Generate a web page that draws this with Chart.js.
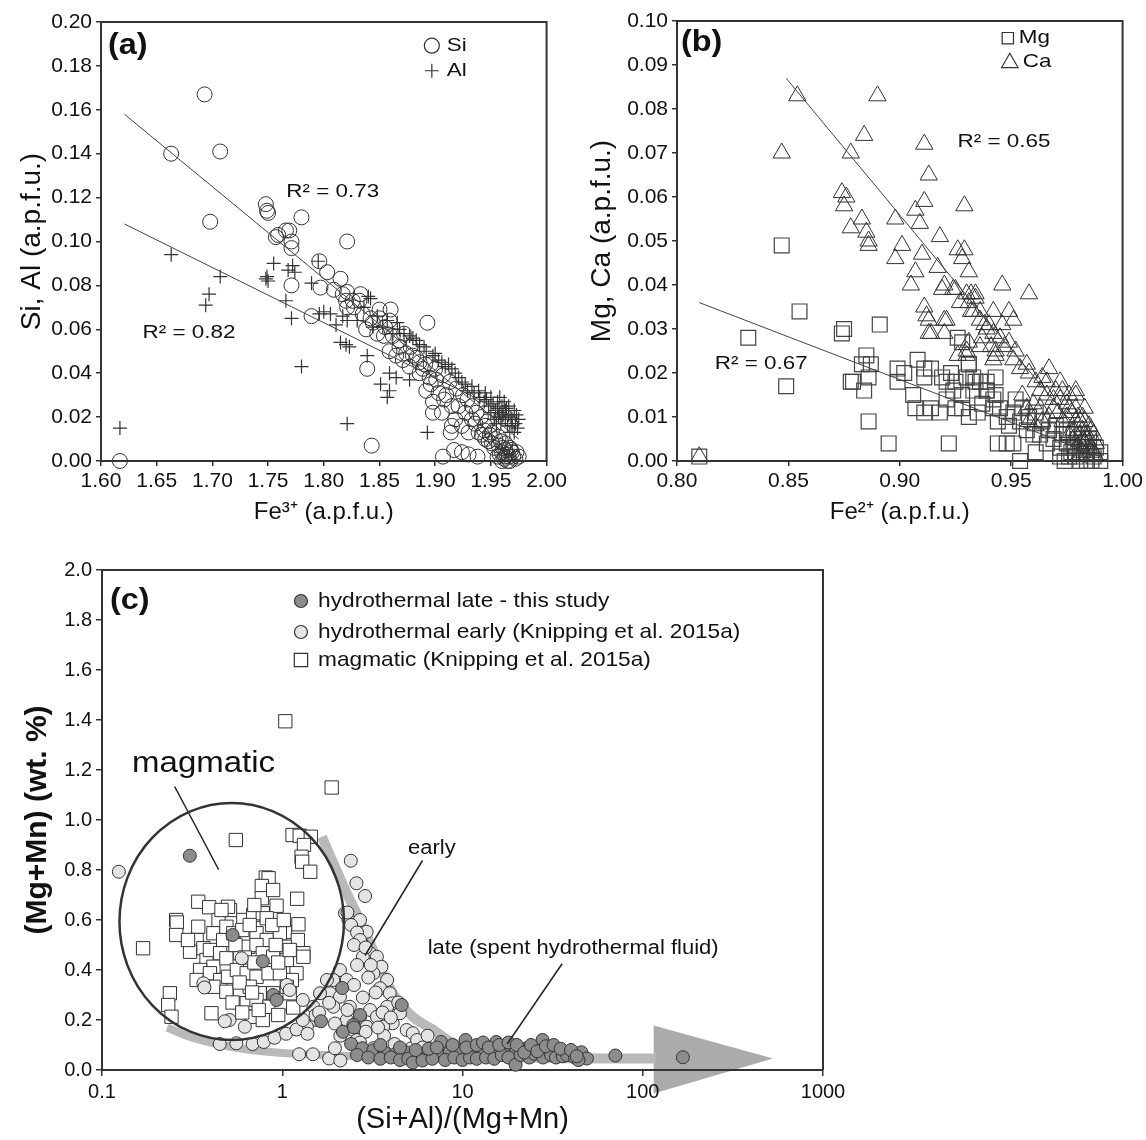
<!DOCTYPE html>
<html>
<head>
<meta charset="utf-8">
<script src="https://cdn.jsdelivr.net/npm/chart.js@4/dist/chart.umd.min.js"></script>
<style>
  body { margin: 0; background: #fff; width: 1146px; height: 1140px; position: relative; overflow: hidden; }
  canvas { position: absolute; }
</style>
</head>
<body>
<canvas id="chartA" width="570" height="535" style="left:0;top:0"></canvas>
<canvas id="chartB" width="576" height="535" style="left:570px;top:0"></canvas>
<canvas id="chartC" width="870" height="600" style="left:0;top:540px"></canvas>
<script>
// ---------- panel (a): Fe3+ vs Si, Al ----------
const aXTicks = [1.60, 1.65, 1.70, 1.75, 1.80, 1.85, 1.90, 1.95, 2.00];
const aYTicks = [0, 0.02, 0.04, 0.06, 0.08, 0.10, 0.12, 0.14, 0.16, 0.18, 0.20];
const siPts = [
  [1.617,0.000],[1.663,0.140],[1.693,0.167],[1.698,0.109],[1.707,0.141],
  [1.748,0.117],[1.749,0.114],[1.750,0.113],[1.757,0.102],[1.759,0.103],
  [1.766,0.105],[1.769,0.105],[1.771,0.100],[1.771,0.097],[1.780,0.111],
  [1.771,0.080],[1.789,0.066],[1.796,0.091],[1.797,0.079],[1.803,0.086],
  [1.815,0.083],[1.821,0.100],[1.809,0.078],[1.817,0.076],[1.821,0.077],[1.833,0.076],
  [1.820,0.073],[1.826,0.073],[1.827,0.070],[1.821,0.070],[1.832,0.073],
  [1.850,0.069],[1.860,0.069],[1.859,0.064],[1.850,0.065],[1.844,0.063],[1.838,0.060],
  [1.848,0.058],[1.854,0.057],[1.862,0.057],[1.835,0.067],[1.842,0.065],[1.855,0.061],
  [1.893,0.063],[1.839,0.042],[1.843,0.007],
  [1.868,0.052],[1.874,0.049],[1.871,0.046],[1.880,0.048],[1.877,0.043],[1.886,0.045],
  [1.868,0.055],[1.865,0.048],[1.859,0.050],[1.883,0.047],[1.878,0.052],[1.872,0.058],
  [1.889,0.042],[1.895,0.038],[1.901,0.037],[1.892,0.032],[1.903,0.031],[1.898,0.027],
  [1.908,0.028],[1.915,0.025],[1.906,0.022],[1.918,0.019],[1.924,0.016],[1.930,0.013],
  [1.915,0.016],[1.933,0.019],[1.927,0.022],[1.898,0.022],[1.914,0.013],
  [1.886,0.040],[1.891,0.044],[1.896,0.035],[1.910,0.030],[1.921,0.025],[1.936,0.017],
  [1.907,0.002],[1.917,0.005],[1.924,0.004],[1.930,0.003],[1.938,0.002],
  [1.939,0.013],[1.945,0.010],[1.951,0.008],[1.957,0.007],[1.960,0.004],[1.963,0.005],
  [1.966,0.002],[1.969,0.004],[1.972,0.001],[1.975,0.002],[1.957,0.011],[1.951,0.013],
  [1.945,0.016],[1.954,0.010],[1.963,0.008],[1.968,0.005],[1.965,0.000],[1.962,0.001],
  [1.942,0.012],[1.948,0.009],
  [1.958,0.003],[1.961,0.006],[1.964,0.003],[1.967,0.006],[1.970,0.002],[1.973,0.004],
  [1.959,0.009],[1.953,0.006],[1.956,0.002],[1.960,0.000],[1.963,0.002],[1.967,0.000],
  [1.949,0.012],[1.944,0.014],[1.947,0.018],[1.941,0.020],[1.937,0.022],[1.933,0.025],
  [1.929,0.028],[1.925,0.030],[1.919,0.033],[1.913,0.036],[1.907,0.039],[1.900,0.042],
  [1.896,0.044]
];
const alPts = [
  [1.617,0.015],[1.663,0.094],[1.694,0.071],[1.697,0.076],[1.707,0.084],
  [1.748,0.083],[1.749,0.084],[1.750,0.082],[1.755,0.090],[1.766,0.073],[1.768,0.087],
  [1.771,0.065],[1.772,0.089],[1.774,0.086],[1.780,0.043],[1.789,0.081],[1.795,0.091],
  [1.800,0.068],[1.796,0.067],[1.806,0.067],[1.811,0.062],
  [1.821,0.017],[1.815,0.054],[1.820,0.053],[1.823,0.052],[1.821,0.064],[1.817,0.066],
  [1.842,0.074],[1.840,0.075],[1.830,0.064],[1.836,0.070],
  [1.851,0.035],[1.859,0.032],[1.857,0.029],[1.859,0.040],[1.865,0.038],[1.877,0.037],
  [1.839,0.048],[1.893,0.013],
  [1.844,0.061],[1.853,0.061],[1.862,0.058],[1.868,0.060],[1.877,0.057],[1.883,0.055],
  [1.890,0.052],[1.892,0.050],[1.898,0.048],[1.903,0.046],[1.909,0.043],[1.915,0.042],
  [1.921,0.038],[1.927,0.035],[1.929,0.032],[1.933,0.034],[1.939,0.032],[1.945,0.031],
  [1.950,0.029],[1.956,0.027],[1.960,0.025],[1.963,0.023],[1.968,0.020],[1.972,0.017],
  [1.974,0.015],[1.954,0.023],[1.957,0.020],[1.963,0.019],[1.969,0.016],[1.948,0.025],
  [1.966,0.025],[1.971,0.023],[1.959,0.017],[1.975,0.019],[1.962,0.027],[1.952,0.026],
  [1.944,0.027],
  [1.950,0.022],[1.953,0.019],[1.956,0.024],[1.958,0.022],[1.961,0.021],[1.964,0.024],
  [1.966,0.021],[1.969,0.019],[1.967,0.013],[1.971,0.013],[1.965,0.016],[1.960,0.020],
  [1.955,0.017],[1.973,0.021],[1.958,0.029],[1.946,0.028],[1.940,0.029],[1.935,0.031],
  [1.924,0.036],[1.918,0.040],[1.912,0.044],[1.906,0.045],[1.900,0.049],[1.886,0.053],
  [1.880,0.056],[1.872,0.058],[1.866,0.063],[1.857,0.064],[1.848,0.066]
];
const siFit = [[1.621,0.158],[1.975,0.010]];
const alFit = [[1.621,0.108],[1.975,0.019]];

// ---------- panel (b): Fe2+ vs Mg, Ca ----------
const bXTicks = [0.80, 0.85, 0.90, 0.95, 1.00];
const bYTicks = [0, 0.01, 0.02, 0.03, 0.04, 0.05, 0.06, 0.07, 0.08, 0.09, 0.10];
const caPts = [
  [0.810,0.001],[0.854,0.083],[0.847,0.070],[0.890,0.083],[0.884,0.074],[0.878,0.070],
  [0.911,0.072],[0.913,0.065],[0.874,0.061],[0.876,0.060],[0.875,0.058],[0.911,0.059],
  [0.929,0.058],[0.883,0.055],[0.898,0.055],[0.907,0.057],[0.909,0.054],[0.878,0.053],
  [0.885,0.052],[0.886,0.050],[0.886,0.049],[0.918,0.051],[0.901,0.049],[0.926,0.048],
  [0.929,0.048],[0.928,0.046],[0.898,0.046],[0.910,0.047],[0.907,0.043],[0.917,0.044],
  [0.931,0.043],[0.905,0.040],[0.920,0.040],[0.946,0.040],[0.958,0.038],[0.932,0.038],
  [0.931,0.036],[0.925,0.039],[0.911,0.035],[0.913,0.032],[0.920,0.032],[0.913,0.029],
  [0.920,0.029],[0.912,0.033],[0.914,0.029],[0.921,0.032],[0.919,0.039],[0.924,0.039],
  [0.927,0.036],[0.930,0.038],[0.932,0.034],[0.934,0.037],[0.936,0.032],[0.939,0.030],
  [0.937,0.028],[0.942,0.034],[0.941,0.026],[0.943,0.024],[0.926,0.024],[0.931,0.027],
  [0.930,0.024],[0.934,0.038],[0.933,0.034],[0.936,0.034],[0.938,0.031],[0.940,0.031],
  [0.942,0.029],[0.949,0.034],[0.951,0.032],[0.946,0.031],[0.945,0.028],[0.947,0.026],
  [0.949,0.027],[0.952,0.025],[0.951,0.023],[0.954,0.021],[0.957,0.022],[0.958,0.020],
  [0.961,0.018],[0.964,0.019],[0.967,0.021],[0.966,0.018],[0.972,0.018],[0.973,0.016],
  [0.976,0.015],[0.979,0.015],[0.979,0.016],[0.970,0.016],[0.969,0.014],[0.975,0.013],
  [0.979,0.012],[0.982,0.010],[0.981,0.009],[0.985,0.008],[0.984,0.006],[0.987,0.006],
  [0.988,0.004],[0.978,0.007],[0.981,0.006],[0.983,0.004],[0.985,0.003],[0.979,0.003],
  [0.976,0.006],[0.982,0.002],[0.987,0.002],[0.960,0.013],[0.963,0.012],[0.964,0.009],
  [0.967,0.010],[0.961,0.008],[0.957,0.012],[0.958,0.009],[0.955,0.015],[0.943,0.025],
  [0.942,0.023],[0.936,0.026],[0.930,0.025],
  [0.980,0.010],[0.983,0.009],[0.986,0.007],[0.984,0.005],[0.982,0.007],[0.979,0.009],
  [0.977,0.011],[0.975,0.010],[0.981,0.004],[0.984,0.001],[0.986,0.003],[0.988,0.001],
  [0.980,0.001],[0.978,0.005],[0.973,0.009],[0.971,0.011],[0.969,0.012],[0.972,0.014],
  [0.976,0.012],[0.983,0.012],[0.966,0.015],[0.963,0.016]
];
const mgPts = [
  [0.810,0.001],[0.832,0.028],[0.847,0.049],[0.849,0.017],[0.855,0.034],[0.875,0.030],
  [0.874,0.029],[0.891,0.031],[0.885,0.024],[0.883,0.022],[0.887,0.022],[0.878,0.018],
  [0.879,0.018],[0.884,0.016],[0.886,0.019],[0.886,0.009],[0.895,0.004],[0.922,0.004],
  [0.899,0.021],[0.902,0.020],[0.899,0.018],[0.908,0.023],[0.911,0.021],[0.914,0.021],
  [0.911,0.019],[0.906,0.015],[0.907,0.012],[0.911,0.011],[0.914,0.012],[0.918,0.011],
  [0.923,0.020],[0.925,0.018],[0.921,0.018],[0.919,0.019],[0.926,0.028],[0.931,0.022],
  [0.930,0.019],[0.933,0.016],[0.928,0.015],[0.924,0.016],[0.921,0.014],[0.925,0.012],
  [0.928,0.012],[0.931,0.010],[0.935,0.011],[0.937,0.013],[0.939,0.016],[0.934,0.018],
  [0.939,0.018],[0.943,0.019],[0.943,0.015],[0.942,0.012],[0.944,0.009],[0.944,0.004],
  [0.928,0.027],[0.931,0.022],[0.933,0.019],[0.936,0.018],[0.939,0.016],[0.942,0.014],
  [0.945,0.012],[0.948,0.010],[0.951,0.011],[0.954,0.009],[0.949,0.008],[0.957,0.007],
  [0.960,0.006],[0.963,0.006],[0.966,0.004],[0.969,0.005],[0.972,0.003],[0.975,0.004],
  [0.978,0.003],[0.981,0.002],[0.984,0.002],[0.987,0.001],[0.948,0.004],[0.951,0.004],
  [0.961,0.002],[0.972,0.001],[0.990,0.002],[0.976,0.001],[0.954,0.000],
  [0.975,0.007],[0.978,0.006],[0.980,0.005],[0.983,0.004],[0.985,0.005],[0.982,0.006],
  [0.979,0.001],[0.981,0.000],[0.984,0.000],[0.986,0.000],[0.988,0.003],[0.977,0.002],
  [0.973,0.006],[0.970,0.008],[0.967,0.007],[0.964,0.009],[0.961,0.011],[0.958,0.010],
  [0.955,0.012],[0.952,0.014],[0.990,0.000],[0.974,0.000]
];
const caFit = [[0.849,0.087],[0.990,0.001]];
const mgFit = [[0.810,0.036],[0.990,0.001]];

// ---------- panel (c): (Si+Al)/(Mg+Mn) vs Mg+Mn ----------
const cXTicks = [0.1, 1, 10, 100, 1000];
const cXTickLabels = ['0.1', '1', '10', '100', '1000'];
const cYTicks = [0, 0.2, 0.4, 0.6, 0.8, 1.0, 1.2, 1.4, 1.6, 1.8, 2.0];
const magmaticPts = [
  [1.04,1.395],[1.88,1.13],[0.553,0.92],[1.14,0.94],[1.25,0.937],[1.44,0.933],[1.32,0.90],
  [1.28,0.853],[1.29,0.833],[1.43,0.793],[0.81,0.77],[0.84,0.767],[0.77,0.736],[1.21,0.685],
  [0.93,0.657],[0.77,0.687],[0.342,0.673],[0.258,0.60],[0.26,0.59],[0.258,0.54],
  [0.393,0.651],[0.443,0.60],[0.513,0.64],[0.50,0.653],[0.608,0.60],[0.69,0.62],[0.78,0.627],
  [0.82,0.607],[1.035,0.553],[1.23,0.583],[1.22,0.52],[1.31,0.467],[0.342,0.573],[0.335,0.52],
  [0.365,0.487],[0.308,0.473],[0.38,0.44],[0.415,0.547],[0.47,0.52],[0.49,0.573],[0.535,0.547],
  [0.635,0.533],[0.72,0.547],[0.82,0.52],[0.97,0.547],[1.035,0.493],[0.397,0.48],[0.452,0.467],
  [0.415,0.413],[0.35,0.40],[0.335,0.36],[0.49,0.447],[0.583,0.467],[0.647,0.493],[0.72,0.50],
  [0.78,0.467],[0.89,0.453],[1.06,0.44],[1.20,0.387],[1.13,0.36],[1.31,0.453],[0.397,0.387],
  [0.452,0.36],[0.50,0.373],[0.56,0.40],[0.635,0.387],[0.72,0.373],[0.84,0.387],[0.97,0.387],
  [0.415,0.333],[0.49,0.313],[0.583,0.32],[0.66,0.333],[0.75,0.307],[0.89,0.307],[1.06,0.333],
  [0.238,0.307],[0.233,0.26],[0.243,0.213],[0.405,0.227],[0.635,0.267],[0.72,0.28],[0.68,0.213],
  [0.78,0.20],[0.85,0.253],[0.99,0.267],[1.1,0.307],[0.169,0.487],[0.60,0.56],[0.66,0.58],
  [0.55,0.50],[0.62,0.45],[0.70,0.43],[0.88,0.58],[0.92,0.50],[0.95,0.43],[0.58,0.35],
  [0.68,0.31],[0.53,0.27],[0.74,0.24],[0.60,0.23],[0.95,0.22],[1.15,0.25],[0.89,0.72],
  [0.70,0.66],[1.02,0.60],[1.10,0.48],[0.46,0.64],[0.30,0.52]
];
const earlyPts = [
  [0.124,0.793],[2.40,0.837],[2.58,0.747],[2.88,0.696],[2.23,0.627],[2.33,0.60],[2.48,0.58],
  [2.70,0.60],[2.94,0.553],[2.76,0.507],[3.07,0.467],[2.80,0.453],[3.35,0.453],[3.55,0.413],
  [3.20,0.387],[3.82,0.36],[3.49,0.327],[3.95,0.307],[4.1,0.267],[3.82,0.253],[4.5,0.227],
  [4.1,0.187],[4.9,0.16],[5.3,0.147],[2.09,0.40],[1.92,0.36],[2.28,0.36],[1.84,0.307],
  [2.09,0.293],[2.37,0.253],[1.92,0.253],[2.70,0.213],[2.28,0.20],[3.07,0.24],[3.35,0.213],
  [2.94,0.173],[2.48,0.16],[3.63,0.173],[1.62,0.307],[1.49,0.253],[1.55,0.20],[1.37,0.173],
  [0.596,0.447],[0.365,0.347],[1.06,0.34],[0.51,0.20],[0.62,0.173],[0.45,0.104],[0.556,0.107],
  [0.685,0.104],[0.79,0.112],[0.906,0.129],[1.05,0.145],[1.2,0.162],[1.24,0.063],[1.48,0.063],
  [1.82,0.046],[2.1,0.038],[1.96,0.087],[1.38,0.145],[1.53,0.219],[1.82,0.269],[1.96,0.186],
  [2.1,0.137],[3.67,0.137],[4.2,0.104],[5.2,0.087],[3.2,0.087],[5.6,0.12],[6.4,0.137],
  [2.6,0.12],[2.9,0.153],[3.4,0.17],[1.77,0.36],[1.6,0.23],[1.1,0.32],[1.3,0.28],[1.3,0.2],
  [0.48,0.195],[0.37,0.33],[2.3,0.63],[2.41,0.58],[2.6,0.55],[2.7,0.52],[2.5,0.50],
  [2.9,0.49],[3.1,0.42],[2.6,0.42],[3.0,0.37],[2.5,0.34],[3.3,0.31],[2.8,0.29],[4.4,0.27],
  [3.6,0.23],[4.0,0.21],[2.3,0.24],[2.7,0.11],[3.0,0.06],[4.5,0.06],[6.0,0.09],[7.5,0.06],
  [9.0,0.08]
];
const latePts = [
  [0.307,0.857],[0.53,0.54],[0.78,0.435],[0.89,0.30],[0.93,0.28],[2.15,0.328],[4.6,0.26],
  [2.7,0.22],[2.48,0.18],[2.17,0.153],[1.64,0.195],[2.5,0.17],[2.41,0.104],[2.78,0.087],
  [3.2,0.079],[3.68,0.071],[4.23,0.063],[4.86,0.071],[5.6,0.054],[6.44,0.054],[7.4,0.063],
  [8.5,0.071],[9.8,0.079],[11.3,0.071],[12.9,0.071],[14.9,0.079],[17.1,0.096],[19.7,0.079],
  [22.7,0.087],[26.1,0.087],[30,0.079],[34.5,0.071],[39.7,0.063],[45.7,0.071],[49,0.046],
  [2.6,0.06],[3.0,0.05],[3.5,0.045],[4.0,0.05],[4.5,0.04],[5.0,0.045],[5.3,0.03],[6.0,0.038],
  [6.8,0.045],[7.6,0.112],[8.0,0.04],[9.0,0.05],[10.4,0.12],[10.0,0.04],[11.0,0.05],
  [12.0,0.045],[13.5,0.05],[15.4,0.112],[15.0,0.045],[16.5,0.06],[18,0.05],[19.7,0.021],
  [21,0.06],[23.5,0.05],[25,0.065],[27.8,0.12],[28,0.05],[31,0.06],[33,0.05],[36,0.055],
  [38,0.06],[42,0.05],[44,0.04],[70.5,0.058],[167,0.051],[3.5,0.1],[4.5,0.09],[5.5,0.08],
  [6.5,0.085],[7.2,0.09],[8.8,0.1],[10.5,0.09],[12,0.1],[13,0.11],[14,0.09],[16,0.1],
  [18,0.11],[20,0.1],[22,0.07],[24,0.1],[26,0.075],[29,0.095],[32,0.1],[35,0.085],[40,0.08],
  [43,0.055]
];
// grey evolution trend drawn behind the points, and its arrow head
const trendUpper = [[1.66,0.933],[1.92,0.827],[2.28,0.707],[2.8,0.573],[3.49,0.413],[4.1,0.307],
  [5.3,0.213],[6.9,0.16],[8.5,0.115],[10.5,0.085],[14.9,0.063],[21,0.052],[40,0.047],[80,0.046],[118,0.046]];
const trendLower = [[0.23,0.17],[0.3,0.135],[0.4,0.11],[0.6,0.085],[1.0,0.068],[2.0,0.058],
  [5,0.052],[10,0.05],[20,0.047]];
const arrowHead = [[115,0.178],[528,0.046],[115,-0.094]];
const magmaticRing = { xMin: 0.125, xMax: 2.2, yMin: 0.12, yMax: 1.068 };
const leaderMagmatic = [[0.253,1.134],[0.444,0.801]];
const leaderEarly = [[6.0,0.838],[2.88,0.458]];
const leaderLate = [[35.7,0.425],[17.7,0.104]];

// ---------- helpers ----------
const FONT = "'Liberation Sans', Arial, Helvetica, sans-serif";
Chart.defaults.font.family = FONT;
Chart.defaults.color = '#111';
const pts = arr => arr.map(p => ({ x: p[0], y: p[1] }));

function axis(opts) {
  const vertical = opts.vertical;
  return {
    type: opts.type || 'linear',
    min: opts.min, max: opts.max,
    afterBuildTicks: s => { s.ticks = opts.ticks.map(v => ({ value: v })); },
    afterFit: s => { if (vertical) s.width = opts.size; else s.height = opts.size; },
    ticks: {
      callback: opts.labels,
      font: { size: opts.tickSize },
      color: '#111',
      padding: opts.tickPad,
      maxRotation: 0, autoSkip: false
    },
    grid: { display: true, drawOnChartArea: false, drawTicks: true, tickLength: opts.tickLen, color: '#333', lineWidth: 1.5 },
    border: { display: true, color: '#333', width: 2 },
    title: {
      display: true, text: opts.title, color: '#111',
      font: { size: opts.titleSize, weight: opts.bold ? 'bold' : 'normal' },
      padding: { top: opts.titlePad, bottom: opts.titlePad }
    }
  };
}

function sText(ctx, txt, x, y, size, o) {
  o = o || {};
  ctx.save();
  ctx.translate(x, y);
  ctx.scale(o.sx || 1, 1);
  ctx.font = (o.bold ? 'bold ' : '') + size + 'px ' + FONT;
  ctx.fillStyle = '#111';
  ctx.textAlign = o.align || 'left';
  ctx.textBaseline = 'middle';
  ctx.fillText(txt, 0, 0);
  ctx.restore();
}

function marker(ctx, style, r, x, y, fill) {
  ctx.save();
  ctx.fillStyle = fill || 'rgba(0,0,0,0)';
  ctx.strokeStyle = '#333';
  ctx.lineWidth = 1.2;
  Chart.helpers.drawPoint(ctx, { pointStyle: style, radius: r, rotation: 0, borderWidth: 1.2 }, x, y);
  ctx.restore();
}

const framePlugin = {
  id: 'frame',
  afterDraw(chart) {
    const { ctx, chartArea: a } = chart;
    ctx.save();
    ctx.strokeStyle = '#333';
    ctx.lineWidth = 2;
    ctx.beginPath();
    ctx.moveTo(a.left, a.top); ctx.lineTo(a.right, a.top); ctx.lineTo(a.right, a.bottom);
    ctx.stroke();
    ctx.restore();
  }
};

function lineSet(arr, color, width) {
  return {
    data: pts(arr), showLine: true, pointRadius: 0, borderColor: color, borderWidth: width,
    backgroundColor: color, order: -1, clip: false
  };
}

function baseOptions(scales, pad) {
  return {
    responsive: false, animation: false, events: [], devicePixelRatio: 1,
    layout: { padding: pad },
    plugins: { legend: { display: false }, tooltip: { enabled: false } },
    scales
  };
}

// ---------- chart (a) ----------
new Chart(document.getElementById('chartA'), {
  type: 'scatter',
  data: {
    datasets: [
      lineSet(siFit, '#444', 1),
      lineSet(alFit, '#444', 1),
      { data: pts(siPts), pointStyle: 'circle', pointRadius: 7.5, borderColor: '#333', borderWidth: 1,
        backgroundColor: 'rgba(0,0,0,0)', clip: false, order: 1 },
      { data: pts(alPts), pointStyle: 'cross', pointRadius: 7, borderColor: '#333', borderWidth: 1.2,
        backgroundColor: 'rgba(0,0,0,0)', clip: false, order: 2 }
    ]
  },
  options: baseOptions({
    x: axis({ min: 1.6, max: 2.0, ticks: aXTicks, labels: v => v.toFixed(2), tickSize: 21, tickPad: 3, tickLen: 5,
              title: 'Fe³⁺ (a.p.f.u.)', titleSize: 24, titlePad: 8, size: 74 }),
    y: axis({ vertical: true, min: 0, max: 0.2, ticks: aYTicks, labels: v => v.toFixed(2), tickSize: 21, tickPad: 4, tickLen: 5,
              title: 'Si, Al (a.p.f.u.)', titleSize: 28, titlePad: 15, size: 101 })
  }, { top: 22, right: 22, left: 0, bottom: 0 }),
  plugins: [framePlugin, {
    id: 'notesA',
    afterDatasetsDraw(chart) {
      const { ctx, chartArea: a, scales: { x, y } } = chart;
      sText(ctx, '(a)', a.left + 7, a.top + 24, 30, { bold: true, sx: 1.08 });
      sText(ctx, 'R² = 0.73', x.getPixelForValue(1.808), y.getPixelForValue(0.1227), 19, { align: 'center', sx: 1.18 });
      sText(ctx, 'R² = 0.82', x.getPixelForValue(1.679), y.getPixelForValue(0.0583), 19, { align: 'center', sx: 1.18 });
      const lx = x.getPixelForValue(1.897);
      marker(ctx, 'circle', 7.5, lx, y.getPixelForValue(0.1892));
      marker(ctx, 'cross', 7, lx, y.getPixelForValue(0.1778));
      sText(ctx, 'Si', lx + 15, y.getPixelForValue(0.1892), 19, { sx: 1.18 });
      sText(ctx, 'Al', lx + 15, y.getPixelForValue(0.1778), 19, { sx: 1.18 });
    }
  }]
});

// ---------- chart (b) ----------
new Chart(document.getElementById('chartB'), {
  type: 'scatter',
  data: {
    datasets: [
      lineSet(caFit, '#444', 1),
      lineSet(mgFit, '#444', 1),
      { data: pts(caPts), pointStyle: 'triangle', pointRadius: 10, borderColor: '#333', borderWidth: 1,
        backgroundColor: 'rgba(0,0,0,0)', clip: false, order: 1 },
      { data: pts(mgPts), pointStyle: 'rect', pointRadius: 10.5, borderColor: '#444', borderWidth: 1.2,
        backgroundColor: 'rgba(0,0,0,0)', clip: false, order: 2 }
    ]
  },
  options: baseOptions({
    x: axis({ min: 0.8, max: 1.0, ticks: bXTicks, labels: v => v.toFixed(2), tickSize: 21, tickPad: 3, tickLen: 5,
              title: 'Fe²⁺ (a.p.f.u.)', titleSize: 24, titlePad: 8, size: 74 }),
    y: axis({ vertical: true, min: 0, max: 0.1, ticks: bYTicks, labels: v => v.toFixed(2), tickSize: 21, tickPad: 4, tickLen: 5,
              title: 'Mg, Ca (a.p.f.u.)', titleSize: 28, titlePad: 15, size: 107 })
  }, { top: 21, right: 23, left: 0, bottom: 0 }),
  plugins: [framePlugin, {
    id: 'notesB',
    afterDatasetsDraw(chart) {
      const { ctx, chartArea: a, scales: { x, y } } = chart;
      sText(ctx, '(b)', a.left + 4, a.top + 22, 30, { bold: true, sx: 1.08 });
      sText(ctx, 'R² = 0.65', x.getPixelForValue(0.9468), y.getPixelForValue(0.0725), 19, { align: 'center', sx: 1.18 });
      sText(ctx, 'R² = 0.67', x.getPixelForValue(0.8378), y.getPixelForValue(0.0222), 19, { align: 'center', sx: 1.18 });
      const lx = x.getPixelForValue(0.9485);
      marker(ctx, 'rect', 8, lx, y.getPixelForValue(0.0961));
      marker(ctx, 'triangle', 9.5, lx + 2, y.getPixelForValue(0.0905));
      sText(ctx, 'Mg', lx + 11, y.getPixelForValue(0.0961), 19, { sx: 1.18 });
      sText(ctx, 'Ca', lx + 15, y.getPixelForValue(0.0907), 19, { sx: 1.18 });
    }
  }]
});

// ---------- chart (c) ----------
new Chart(document.getElementById('chartC'), {
  type: 'scatter',
  data: {
    datasets: [
      lineSet(leaderMagmatic, '#222', 1.5),
      lineSet(leaderEarly, '#222', 1.5),
      lineSet(leaderLate, '#222', 1.5),
      { data: pts(latePts), pointStyle: 'circle', pointRadius: 6.5, borderColor: '#333', borderWidth: 1,
        backgroundColor: '#8c8c8c', clip: false, order: 0 },
      { data: pts(earlyPts), pointStyle: 'circle', pointRadius: 6.5, borderColor: '#333', borderWidth: 1,
        backgroundColor: '#e4e4e4', clip: false, order: 1 },
      { data: pts(magmaticPts), pointStyle: 'rect', pointRadius: 9.4, borderColor: '#333', borderWidth: 1,
        backgroundColor: '#ffffff', clip: false, order: 2 },
      { data: pts(trendUpper), showLine: true, pointRadius: 0, borderColor: '#b9b9b9', borderWidth: 10,
        cubicInterpolationMode: 'monotone', borderCapStyle: 'butt', order: 3, clip: false },
      { data: pts(trendLower), showLine: true, pointRadius: 0, borderColor: '#b9b9b9', borderWidth: 8,
        cubicInterpolationMode: 'monotone', borderCapStyle: 'butt', order: 3, clip: false }
    ]
  },
  options: baseOptions({
    x: axis({ type: 'logarithmic', min: 0.1, max: 1000, ticks: cXTicks, labels: (v, i) => cXTickLabels[i],
              tickSize: 20, tickPad: 4, tickLen: 6, title: '(Si+Al)/(Mg+Mn)', titleSize: 29, titlePad: 3, size: 70 }),
    y: axis({ vertical: true, min: 0, max: 2.0, ticks: cYTicks, labels: v => v.toFixed(1), tickSize: 20, tickPad: 4, tickLen: 6,
              title: '(Mg+Mn) (wt. %)', titleSize: 30, bold: true, titlePad: 20, size: 102 })
  }, { top: 30, right: 47, left: 0, bottom: 0 }),
  plugins: [framePlugin, {
    id: 'arrowC',
    beforeDraw(chart) {
      // arrow head sits under the axis labels but behind the points
      const { ctx, scales: { x, y } } = chart;
      ctx.save();
      ctx.fillStyle = '#ababab';
      ctx.beginPath();
      arrowHead.forEach((p, i) => {
        const px = x.getPixelForValue(p[0]), py = y.getPixelForValue(p[1]);
        if (i === 0) ctx.moveTo(px, py); else ctx.lineTo(px, py);
      });
      ctx.closePath();
      ctx.fill();
      ctx.restore();
    },
    afterDatasetsDraw(chart) {
      const { ctx, chartArea: a, scales: { x, y } } = chart;
      const l = x.getPixelForValue(magmaticRing.xMin), r = x.getPixelForValue(magmaticRing.xMax);
      const t = y.getPixelForValue(magmaticRing.yMax), b = y.getPixelForValue(magmaticRing.yMin);
      ctx.save();
      ctx.strokeStyle = '#333';
      ctx.lineWidth = 2.5;
      ctx.beginPath();
      ctx.ellipse((l + r) / 2, (t + b) / 2, (r - l) / 2, (b - t) / 2, 0, 0, Math.PI * 2);
      ctx.stroke();
      ctx.restore();
      sText(ctx, '(c)', a.left + 8, a.top + 31, 30, { bold: true, sx: 1.08 });
      sText(ctx, 'magmatic', x.getPixelForValue(0.366), y.getPixelForValue(1.225), 30, { align: 'center', sx: 1.1 });
      sText(ctx, 'early', x.getPixelForValue(6.76), y.getPixelForValue(0.887), 20, { align: 'center', sx: 1.1 });
      sText(ctx, 'late (spent hydrothermal fluid)', x.getPixelForValue(41.1), y.getPixelForValue(0.486), 20, { align: 'center', sx: 1.1 });
      const mx = x.getPixelForValue(1.27), tx = x.getPixelForValue(1.58);
      const rows = [
        [1.876, 'circle', 6.5, '#8c8c8c', 'hydrothermal late - this study'],
        [1.752, 'circle', 6.5, '#e4e4e4', 'hydrothermal early (Knipping et al. 2015a)'],
        [1.640, 'rect', 9.4, '#ffffff', 'magmatic (Knipping et al. 2015a)']
      ];
      rows.forEach(rw => {
        const py = y.getPixelForValue(rw[0]);
        marker(ctx, rw[1], rw[2], mx, py, rw[3]);
        sText(ctx, rw[4], tx, py, 21, { sx: 1.08 });
      });
    }
  }]
});
</script>
</body>
</html>
